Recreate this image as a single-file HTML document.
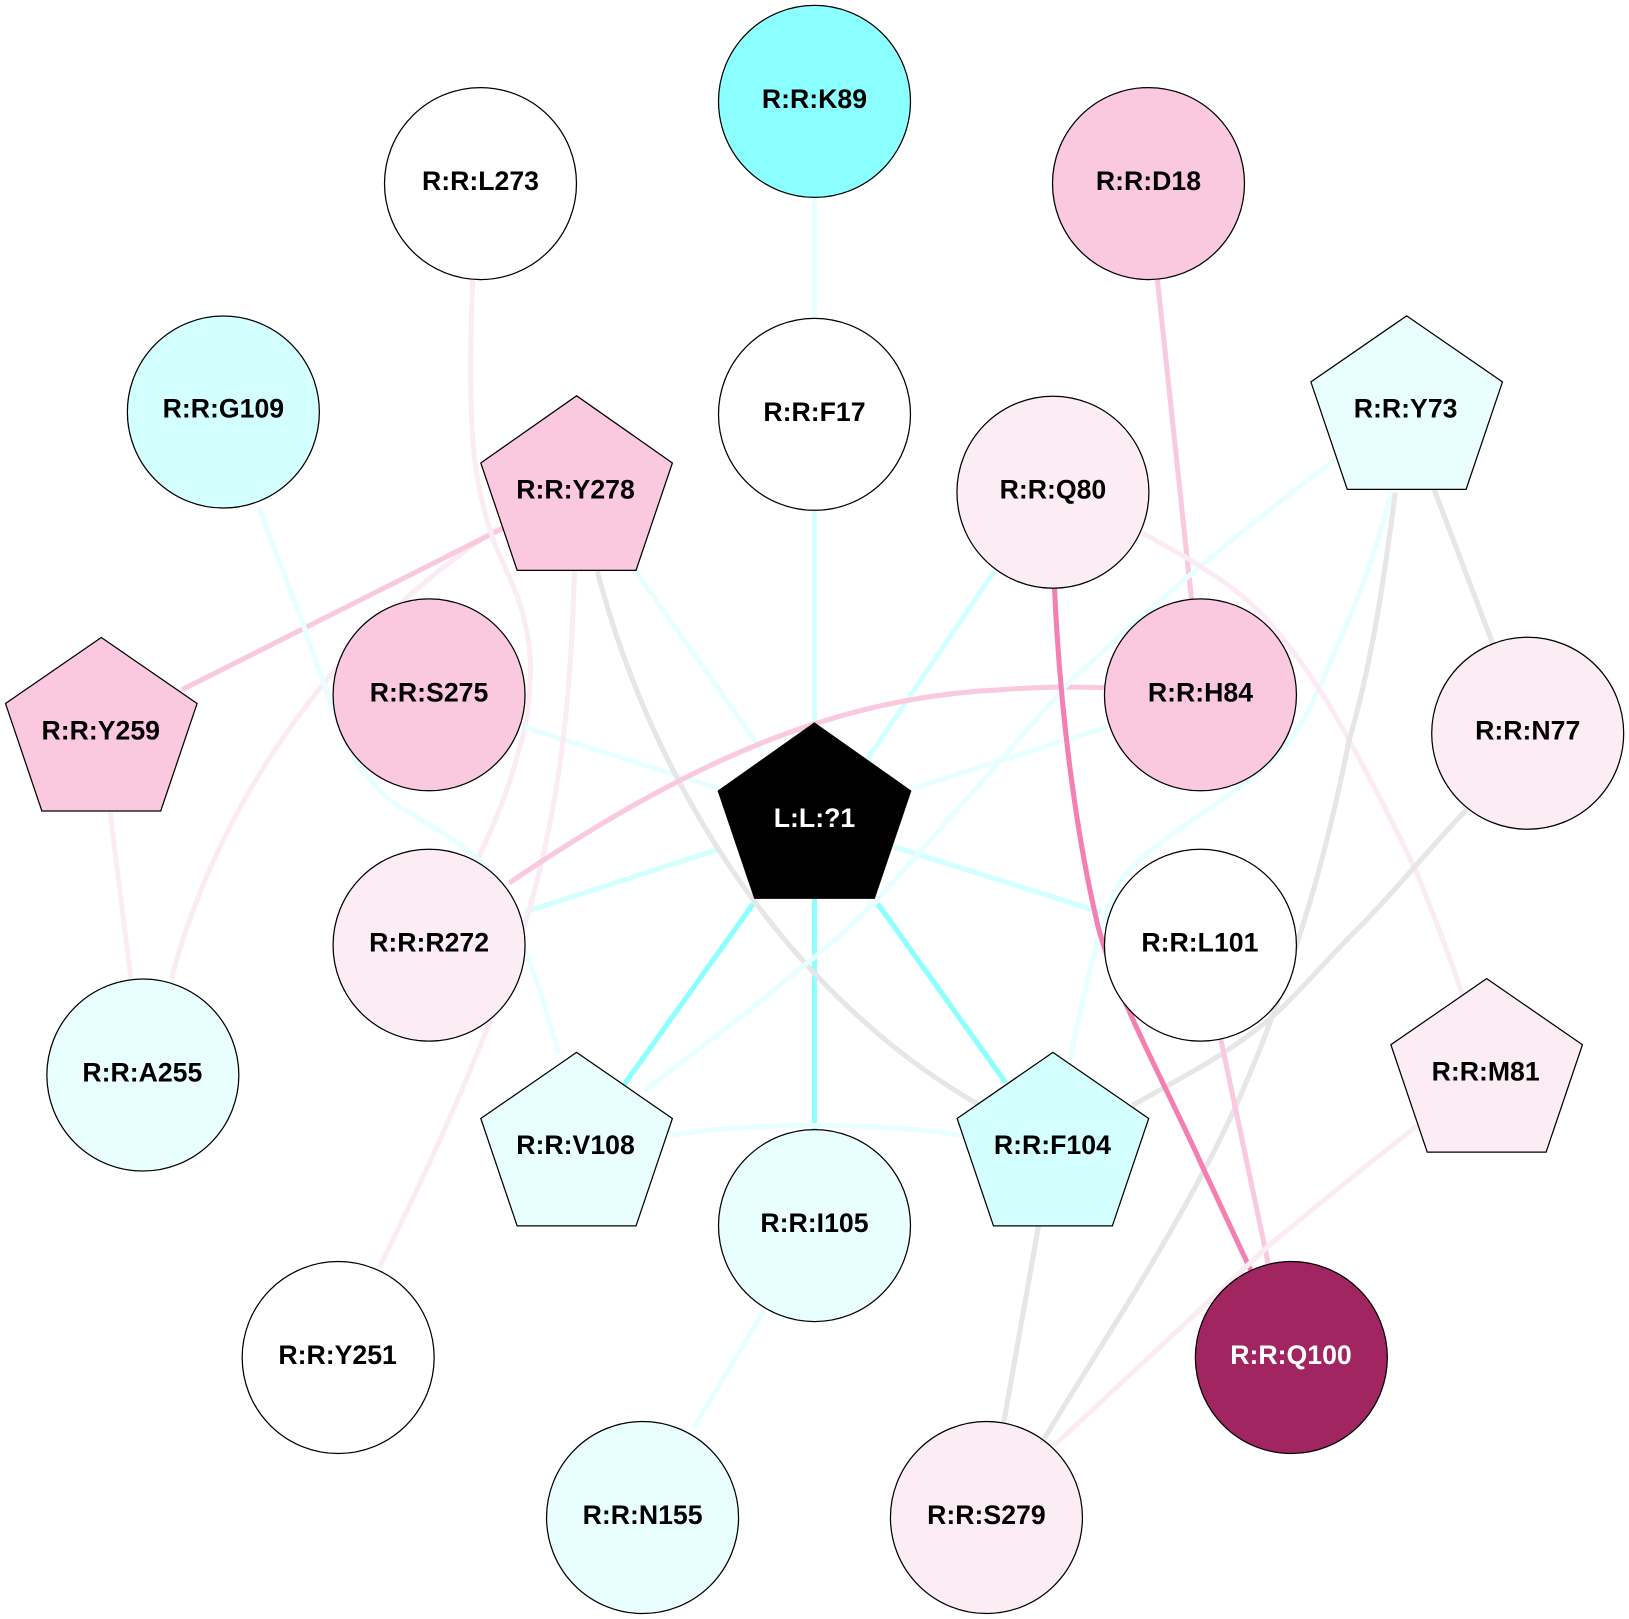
<!DOCTYPE html>
<html>
<head>
<meta charset="utf-8">
<style>
html,body{margin:0;padding:0;background:#fff;width:1629px;height:1619px;overflow:hidden}
svg{display:block}
text{font-family:"Liberation Sans",Arial,sans-serif;font-weight:bold;font-size:25.67px;text-anchor:middle;fill:#000}
.e path{fill:none;stroke-width:4.9}
circle,polygon{stroke:#000;stroke-width:1.2}
</style>
</head>
<body>
<svg xmlns="http://www.w3.org/2000/svg" width="1629" height="1619" viewBox="0 0 1629 1619">
<rect width="1629" height="1619" fill="#fff"/>
<g transform="scale(1.0389)">
<g class="e">
<path stroke="#e7ffff" d="M784 180V310"/>
<path stroke="#d2ffff" d="M784 480V710"/>
<path stroke="#fbecf4" d="M165 942C200 810 290 632 480 508"/>
<path stroke="#f9c9df" d="M175 664L485 508"/>
<path stroke="#fbecf4" d="M455 268C452 340 452 400 457 443C462 480 468 500 476 523C490 555 500 575 505 598C510 620 512 640 510 655C510 680 505 705 498.5 725C490 760 475 795 460.7 825"/>
<path stroke="#e7ffff" d="M249 488L292 601.6C305 640 325 700 344 735.6C360 755 370 767 385 777C415 795 440 808 461 828C490 860 520 950 538 1015"/>
<path stroke="#e7ffff" d="M612 550L735 725"/>
<path stroke="#d2ffff" d="M957 550L832 735"/>
<path stroke="#e7ffff" d="M505 700L695 760"/>
<path stroke="#e7ffff" d="M1065 700L875 760"/>
<path stroke="#d2ffff" d="M505 878L690 818"/>
<path stroke="#d2ffff" d="M1060 878L860 815"/>
<path stroke="#8cffff" d="M600 1045L725 870"/>
<path stroke="#8cffff" d="M784 863V1090"/>
<path stroke="#8cffff" d="M968 1042L845 870"/>
<path stroke="#fbecf4" d="M553 548C550 640 545 760 505 890C470 1000 410 1130 365 1220"/>
<path stroke="#e6e6e6" d="M575 550C630 760 760 960 945 1065"/>
<path stroke="#fbecf4" d="M106 782L126 942"/>
<path stroke="#f9c9df" d="M1114 268L1147 578"/>
<path stroke="#f9c9df" d="M1065 662C1030 661 1000 661 962 664C800 672 660 735 490 850"/>
<path stroke="#e7ffff" d="M1285 443C1200 505 1100 590 1026 660C960 735 900 805 844 866C805 908 765 935 722 972L620 1050"/>
<path stroke="#e7ffff" d="M1339 474C1325 530 1310 570 1291 613C1275 650 1260 690 1241 713C1215 745 1190 760 1163 779C1125 805 1095 825 1078 849C1060 880 1042 960 1030 1020"/>
<path stroke="#fbecf4" d="M1099.5 513C1140 535 1170 552 1202 579C1240 615 1270 660 1295 706C1325 760 1345 800 1364 841C1380 880 1395 920 1408 958"/>
<path stroke="#e6e6e6" d="M1343 474C1332 560 1320 640 1298.5 713C1285 780 1270 840 1256 884C1230 970 1200 1050 1158.5 1127.5C1110 1220 1050 1310 1005 1385"/>
<path stroke="#e6e6e6" d="M1380 470L1437 620"/>
<path stroke="#e6e6e6" d="M1412 779C1380 812 1345 855 1310 891C1285 915 1255 950 1231 973C1195 1005 1160 1025 1124 1045L1090 1064"/>
<path stroke="#f47fb2" d="M1015 565C1020 680 1035 800 1057 892C1075 960 1120 1040 1157 1122L1205 1225"/>
<path stroke="#e7ffff" d="M645 1093C720 1080 850 1080 925 1093"/>
<path stroke="#f9c9df" d="M1175 1000L1222 1222"/>
<path stroke="#fbecf4" d="M1365 1083C1320 1118 1270 1158 1220.6 1199.6L1014 1392"/>
<path stroke="#e6e6e6" d="M1000 1178L966 1370"/>
<path stroke="#e7ffff" d="M735 1262L667 1375"/>
</g>

<circle cx="784" cy="97.6" r="92.4" fill="#8cffff"/><text x="784" y="104">R:R:K89</text>
<circle cx="462.5" cy="176.7" r="92.4" fill="#fff"/><text x="462.5" y="183">R:R:L273</text>
<circle cx="1105.5" cy="176.7" r="92.4" fill="#fac9df"/><text x="1105.5" y="183">R:R:D18</text>
<circle cx="215" cy="396.6" r="92.4" fill="#d3ffff"/><text x="215" y="402">R:R:G109</text>
<circle cx="784" cy="398.8" r="92.4" fill="#fff"/><text x="784" y="405">R:R:F17</text>
<circle cx="1013.5" cy="473.8" r="92.4" fill="#fcedf5"/><text x="1013.5" y="480">R:R:Q80</text>
<circle cx="413" cy="668.8" r="92.4" fill="#fac9df"/><text x="413" y="675">R:R:S275</text>
<circle cx="1155.5" cy="668.8" r="92.4" fill="#fac9df"/><text x="1155.5" y="675">R:R:H84</text>
<circle cx="1470.5" cy="705.8" r="92.4" fill="#fcedf5"/><text x="1470.5" y="712">R:R:N77</text>
<circle cx="413" cy="909.8" r="92.4" fill="#fcedf5"/><text x="413" y="916">R:R:R272</text>
<circle cx="1155.5" cy="909.8" r="92.4" fill="#fff"/><text x="1155" y="916">R:R:L101</text>
<circle cx="137.5" cy="1034.8" r="92.4" fill="#e9ffff"/><text x="137" y="1041">R:R:A255</text>
<circle cx="784" cy="1179.7" r="92.4" fill="#e9ffff"/><text x="784" y="1186">R:R:I105</text>
<circle cx="325.5" cy="1306.7" r="92.4" fill="#fff"/><text x="325" y="1313">R:R:Y251</text>
<circle cx="1243" cy="1306.7" r="92.4" fill="#a12560"/><text x="1242.7" y="1313" style="fill:#fff">R:R:Q100</text>
<circle cx="618.5" cy="1460.7" r="92.4" fill="#e9ffff"/><text x="618.5" y="1467">R:R:N155</text>
<circle cx="949.5" cy="1460.7" r="92.4" fill="#fcedf5"/><text x="949.5" y="1467">R:R:S279</text>

<polygon transform="translate(784 796)" points="0,-100 92.6,-34.6 57.6,68.6 -57.6,68.6 -92.6,-34.6" fill="#000"/><text x="784" y="796" style="fill:#fff">L:L:?1</text>
<polygon transform="translate(555 480)" points="0,-99 92.2,-34.4 57.2,69 -57.2,69 -92.2,-34.4" fill="#fac9df"/><text x="554" y="480">R:R:Y278</text>
<polygon transform="translate(1354 402)" points="0,-98 92.2,-34.4 57.2,69 -57.2,69 -92.2,-34.4" fill="#e9ffff"/><text x="1353" y="402">R:R:Y73</text>
<polygon transform="translate(97.5 711.6)" points="0,-98 92.2,-34.4 57.2,69 -57.2,69 -92.2,-34.4" fill="#fac9df"/><text x="97" y="711.6">R:R:Y259</text>
<polygon transform="translate(1431 1040)" points="0,-98 92.2,-34.4 57.2,69 -57.2,69 -92.2,-34.4" fill="#fcedf5"/><text x="1430" y="1040">R:R:M81</text>
<polygon transform="translate(555 1111)" points="0,-98 92.2,-34.4 57.2,69 -57.2,69 -92.2,-34.4" fill="#e9ffff"/><text x="554" y="1111">R:R:V108</text>
<polygon transform="translate(1013.5 1111)" points="0,-98 92.2,-34.4 57.2,69 -57.2,69 -92.2,-34.4" fill="#d3ffff"/><text x="1013" y="1111">R:R:F104</text>
</g>
</svg>
</body>
</html>
